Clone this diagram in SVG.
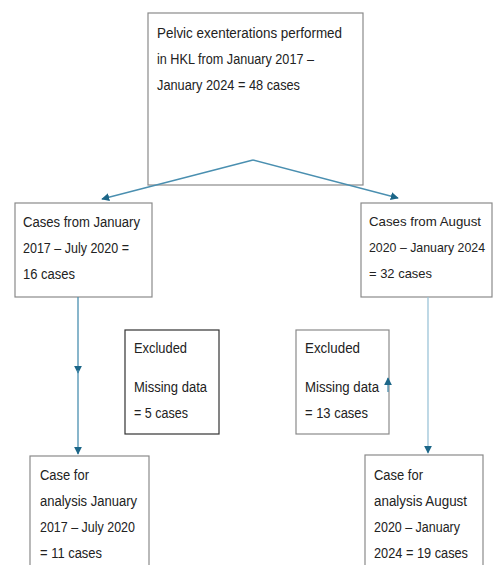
<svg xmlns="http://www.w3.org/2000/svg" width="493" height="565" viewBox="0 0 493 565">
<style>
.box{fill:#fff;stroke:#8a8a8a;stroke-width:1.2}
.dark{stroke:#333}
text{font-family:"Liberation Sans",Arial,sans-serif;font-size:15.5px;fill:#222}
.sm text{font-size:13px}
.c{fill:none;stroke:#4a8fb0;stroke-width:1.3}
.cl{fill:none;stroke:#9cc4d8;stroke-width:1.3}
</style>
<defs>
<marker id="ah" viewBox="0 0 10 10" refX="9" refY="5" markerWidth="8" markerHeight="8" markerUnits="userSpaceOnUse" orient="auto">
<path d="M0,0 L10,5 L0,10 z" fill="#1c6688"/>
</marker>
</defs>
<rect width="493" height="565" fill="#fff"/>
<g id="top">
<rect class="box" x="148" y="13" width="215" height="172"/>
<text x="157" y="38" textLength="185" lengthAdjust="spacingAndGlyphs">Pelvic exenterations performed</text>
<text x="157" y="64" textLength="157" lengthAdjust="spacingAndGlyphs">in HKL from January 2017 –</text>
<text x="157" y="90" textLength="143" lengthAdjust="spacingAndGlyphs">January 2024 = 48 cases</text>
</g>
<g id="left">
<rect class="box" x="15" y="203" width="137" height="94"/>
<text x="23" y="227" textLength="117" lengthAdjust="spacingAndGlyphs">Cases from January</text>
<text x="23" y="253" textLength="106" lengthAdjust="spacingAndGlyphs">2017 – July 2020 =</text>
<text x="23" y="279" textLength="52" lengthAdjust="spacingAndGlyphs">16 cases</text>
</g>
<g id="right" class="sm">
<rect class="box" x="361" y="203" width="131" height="94"/>
<text x="369" y="226" textLength="112" lengthAdjust="spacingAndGlyphs">Cases from August</text>
<text x="369" y="252" textLength="116" lengthAdjust="spacingAndGlyphs">2020 – January 2024</text>
<text x="369" y="278" textLength="63" lengthAdjust="spacingAndGlyphs">= 32 cases</text>
</g>
<g id="excl-left">
<rect class="box dark" x="125" y="330" width="94" height="104"/>
<text x="134" y="353" textLength="53" lengthAdjust="spacingAndGlyphs">Excluded</text>
<text x="134" y="392" textLength="73" lengthAdjust="spacingAndGlyphs">Missing data</text>
<text x="134" y="418" textLength="54" lengthAdjust="spacingAndGlyphs">= 5 cases</text>
</g>
<g id="excl-right">
<rect class="box" x="296" y="330" width="93" height="104"/>
<text x="305" y="353" textLength="55" lengthAdjust="spacingAndGlyphs">Excluded</text>
<text x="305" y="392" textLength="74" lengthAdjust="spacingAndGlyphs">Missing data</text>
<text x="305" y="418" textLength="63" lengthAdjust="spacingAndGlyphs">= 13 cases</text>
</g>
<g id="final-left">
<rect class="box" x="30" y="456" width="119" height="120"/>
<text x="40" y="480" textLength="49" lengthAdjust="spacingAndGlyphs">Case for</text>
<text x="40" y="506" textLength="97" lengthAdjust="spacingAndGlyphs">analysis January</text>
<text x="40" y="532" textLength="95" lengthAdjust="spacingAndGlyphs">2017 – July 2020</text>
<text x="40" y="558" textLength="62" lengthAdjust="spacingAndGlyphs">= 11 cases</text>
</g>
<g id="final-right">
<rect class="box" x="365" y="455" width="118" height="120"/>
<text x="374" y="480" textLength="49" lengthAdjust="spacingAndGlyphs">Case for</text>
<text x="374" y="506" textLength="93" lengthAdjust="spacingAndGlyphs">analysis August</text>
<text x="374" y="532" textLength="86" lengthAdjust="spacingAndGlyphs">2020 – January</text>
<text x="374" y="558" textLength="94" lengthAdjust="spacingAndGlyphs">2024 = 19 cases</text>
</g>
<g id="connectors">
<path class="c" d="M253,160 L102,199" marker-end="url(#ah)"/>
<path class="c" d="M253,160 L398,198" marker-end="url(#ah)"/>
<path class="c" d="M78,297 L78,373" marker-end="url(#ah)"/>
<path class="c" d="M78,370 L78,454" marker-end="url(#ah)"/>
<path class="cl" d="M428,297 L428,453" marker-end="url(#ah)"/>
<path class="c" d="M388,392 L388,378" marker-end="url(#ah)"/>
</g>
</svg>
